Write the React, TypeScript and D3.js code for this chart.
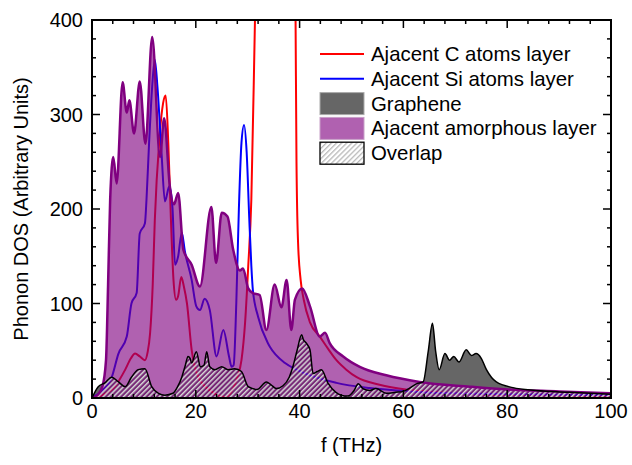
import React from 'react';
import * as d3 from 'd3';

const W = 632;
const H = 465;
const PL = 92, PR = 611, PT = 20, PB = 398;

// x tick labels / y tick labels
const xTickLabels = [0, 20, 40, 60, 80, 100];
const yTickLabels = [0, 100, 200, 300, 400];

// Ajacent amorphous layer  [f (THz), DOS]
const amorphous: [number, number][] = [
  [0, 0], [1, 3], [2, 12], [2.7, 40], [3.1, 120], [3.5, 210], [4.1, 255], [4.75, 227],
  [5.9, 334], [6.7, 302], [7.2, 315], [8.1, 280], [9.2, 335], [10.3, 269], [11.6, 382],
  [13.1, 255], [13.9, 296], [15, 224], [15.8, 205], [16.6, 217], [17.6, 157], [19.2, 141],
  [20.8, 118], [23, 202], [23.9, 143], [25, 196], [26.1, 192], [27.2, 157], [28.5, 135],
  [29.1, 137], [30.1, 116], [31, 111], [32.3, 109], [33.6, 72], [35.2, 120], [36.5, 96],
  [37.5, 125], [38.4, 72], [39.1, 104], [40.5, 116], [42, 97], [43.9, 65], [44.9, 69],
  [45.8, 58], [48.4, 44], [51.6, 33], [56.7, 24], [63.1, 17], [72.8, 12], [80, 9],
  [90, 7], [100, 5],
];

// Graphene
const graphene: [number, number][] = [
  [0, 0], [1.2, 12], [2.5, 16], [3.8, 22], [5.1, 17], [6.4, 12], [7.6, 22], [8.9, 30],
  [10.2, 31], [11.5, 12], [12.8, 5], [14.05, 3], [15.6, 5], [16.5, 12], [17.3, 22],
  [18.0, 35], [18.5, 44], [18.9, 42], [19.2, 37], [20.1, 49], [20.9, 33], [21.6, 35],
  [22.1, 49], [22.7, 33], [23.7, 30], [25, 33], [26.2, 30], [27.5, 31], [28.8, 28],
  [30.1, 12], [31.8, 9], [33.6, 17], [34.5, 14], [35.5, 10], [36.8, 13], [38, 22],
  [38.7, 33], [39.5, 50], [40.4, 67], [40.7, 62], [41.3, 58], [42, 51], [42.6, 26],
  [43.4, 28], [44.2, 30], [45.5, 15.5], [47, 6], [48, 3], [49.3, 2], [50.5, 8],
  [51.3, 15], [52.2, 10], [53.5, 8], [54.7, 10], [56.7, 5], [58.5, 6], [60, 7],
  [61.2, 10.5], [62.5, 15], [63.8, 17], [64.8, 50], [65.6, 79], [66.2, 50], [66.9, 30],
  [68, 47], [68.9, 40], [69.7, 44], [70.7, 38], [72.1, 51], [73.1, 45], [74, 47],
  [75, 42], [76, 30], [77.9, 17], [81.1, 11], [85.6, 8], [92, 6], [100, 4],
];

// Ajacent C atoms layer
const cLayer: [number, number][] = [
  [0, 0], [2, 3], [4.4, 12], [6.4, 30], [7.5, 42], [8.3, 47], [9.2, 44], [10.2, 40],
  [10.7, 48], [11.2, 69], [11.7, 120], [12.1, 188], [13, 275], [13.7, 312], [14.2, 320],
  [14.7, 270], [15.2, 190], [15.7, 125], [16.2, 104], [16.6, 108], [17.2, 128], [17.7, 118],
  [18.3, 100], [19.2, 51], [20.5, 22], [23, 7], [25.6, 1], [27, 8], [28, 22], [28.8, 40],
  [29.5, 80], [30.1, 139], [30.7, 210], [31.4, 400], [32, 560], [33, 800], [35.5, 1200],
  [38, 800], [38.8, 560], [39.2, 420], [39.4, 250], [39.7, 165], [40.2, 125], [40.8, 104],
  [42, 80], [43.9, 65], [45.5, 52], [47.1, 40], [49, 30], [51, 22], [55.4, 14], [61.2, 8.5],
  [70, 5], [80, 3.5], [100, 2],
];

// Ajacent Si atoms layer
const siLayer: [number, number][] = [
  [0, 0], [2, 8], [3.8, 22], [5.1, 47], [6.7, 65], [7.6, 100], [8.6, 111], [9.2, 174],
  [10.2, 185], [10.5, 210], [11.0, 270], [11.6, 330], [12.1, 358], [12.6, 330], [13.4, 259],
  [14.05, 208], [14.9, 224], [15.5, 202], [16, 141], [16.6, 150], [17.3, 175], [17.9, 155],
  [19.2, 125], [20.1, 97], [20.8, 93], [21.7, 105], [22.7, 93], [24, 44], [25.3, 72],
  [26.4, 44], [26.9, 33], [27.3, 35], [27.8, 100], [28.3, 200], [28.8, 270], [29.3, 289],
  [29.8, 260], [30.3, 190], [30.7, 140], [31, 114], [32, 86], [33.9, 58], [34.3, 54],
  [37.2, 37], [39.4, 30], [47.1, 16], [53.5, 10.5], [61.2, 7], [70, 5], [80, 4], [100, 3],
];

const legendItems = [
  { label: 'Ajacent C atoms layer', kind: 'line', color: '#ff0000' },
  { label: 'Ajacent Si atoms layer', kind: 'line', color: '#0000ff' },
  { label: 'Graphene', kind: 'gray' },
  { label: 'Ajacent amorphous layer', kind: 'purple' },
  { label: 'Overlap', kind: 'hatch' },
];

const FONT = "'Liberation Sans', Arial, sans-serif";

export default function App() {
  const x = d3.scaleLinear().domain([0, 100]).range([PL, PR]);
  const y = d3.scaleLinear().domain([0, 400]).range([PB, PT]);

  const curve = d3.curveMonotoneX;
  const area = d3.area<[number, number]>().x(d => x(d[0])).y0(y(0)).y1(d => y(d[1])).curve(curve);
  const line = d3.line<[number, number]>().x(d => x(d[0])).y(d => y(d[1])).curve(curve);

  const xMinor = d3.range(0, 100.01, 4);
  const yMinor = d3.range(0, 400.01, 20);

  return (
    <svg width={W} height={H} style={{ position: 'absolute', left: 0, top: 0, background: '#fff' }}>
      <defs>
        <clipPath id="plotClip">
          <rect x={PL} y={PT} width={PR - PL} height={PB - PT} />
        </clipPath>
        <clipPath id="clipG">
          <path d={area(graphene) || ''} />
        </clipPath>
        <clipPath id="clipA">
          <path d={area(amorphous) || ''} />
        </clipPath>
        <pattern id="hatch" patternUnits="userSpaceOnUse" width={3.6} height={10} patternTransform="rotate(45)">
          <rect x={0} y={0} width={1.5} height={10} fill="#d4d4d4" />
        </pattern>
        <pattern id="hatchLegend" patternUnits="userSpaceOnUse" width={3.6} height={10} patternTransform="rotate(45)">
          <rect x={0} y={0} width={1.3} height={10} fill="#b8b8b8" />
        </pattern>
      </defs>

      <g clipPath="url(#plotClip)">
        <path d={area(graphene) || ''} fill="#666666" />
        <path d={line(cLayer) || ''} fill="none" stroke="#ff0000" strokeWidth={2} />
        <path d={line(siLayer) || ''} fill="none" stroke="#0000ff" strokeWidth={2} />
        <path d={area(amorphous) || ''} fill="#800080" fillOpacity={0.62} />
        <g clipPath="url(#clipA)">
          <g clipPath="url(#clipG)">
            <rect x={PL} y={PT} width={PR - PL} height={PB - PT} fill="url(#hatch)" />
          </g>
        </g>
        <path d={line(amorphous) || ''} fill="none" stroke="#800080" strokeWidth={2.5} />
        <path d={line(graphene) || ''} fill="none" stroke="#000" strokeWidth={1.5} />
      </g>

      {/* ticks */}
      <g stroke="#000" strokeWidth={1.5}>
        {xMinor.map(v => {
          const len = v % 20 === 0 ? 8 : 4;
          return (
            <g key={'x' + v}>
              <line x1={x(v)} x2={x(v)} y1={PB} y2={PB - len} />
              <line x1={x(v)} x2={x(v)} y1={PT} y2={PT + len} />
            </g>
          );
        })}
        {yMinor.map(v => {
          const len = v % 100 === 0 ? 8 : 4;
          return (
            <g key={'y' + v}>
              <line x1={PL} x2={PL + len} y1={y(v)} y2={y(v)} />
              <line x1={PR} x2={PR - len} y1={y(v)} y2={y(v)} />
            </g>
          );
        })}
      </g>
      <rect x={PL} y={PT} width={PR - PL} height={PB - PT} fill="none" stroke="#000" strokeWidth={2} />

      <g fontFamily={FONT} fontSize={20} fill="#000">
        {xTickLabels.map(v => (
          <text key={'xl' + v} x={x(v)} y={PB + 20} textAnchor="middle">{v}</text>
        ))}
        {yTickLabels.map(v => (
          <text key={'yl' + v} x={PL - 9} y={y(v) + 7} textAnchor="end">{v}</text>
        ))}
        <text x={(PL + PR) / 2} y={452} textAnchor="middle">f (THz)</text>
        <text transform={`translate(28, ${(PT + PB) / 2}) rotate(-90)`} textAnchor="middle">Phonon DOS (Arbitrary Units)</text>
      </g>

      <g fontFamily={FONT} fontSize={20.4}>
        {legendItems.map((it, i) => {
          const cy = 54 + i * 24.8;
          return (
            <g key={it.label}>
              {it.kind === 'line' && (
                <line x1={320} x2={364} y1={cy} y2={cy} stroke={it.color} strokeWidth={2} />
              )}
              {it.kind === 'gray' && (
                <rect x={320} y={cy - 11} width={44} height={22} fill="#666666" stroke="#aaaaaa" strokeWidth={1} />
              )}
              {it.kind === 'purple' && (
                <rect x={320} y={cy - 11} width={44} height={22} fill="#800080" fillOpacity={0.62} stroke="#c8a0c8" strokeWidth={1} />
              )}
              {it.kind === 'hatch' && (
                <rect x={320} y={cy - 11} width={44} height={22} fill="url(#hatchLegend)" stroke="#000" strokeWidth={1.3} />
              )}
              <text x={371} y={cy + 7} fill="#000">{it.label}</text>
            </g>
          );
        })}
      </g>
    </svg>
  );
}
